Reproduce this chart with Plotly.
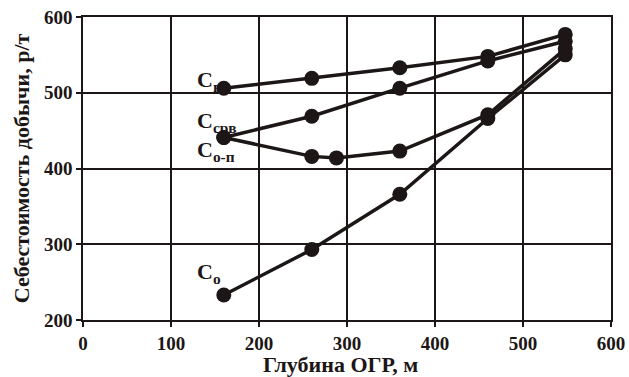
import plotly.graph_objects as go

# Depth of the open pit limit (m)
depth_main = [160, 260, 360, 460, 548]
depth_op = [160, 260, 288, 360, 460, 548]

# Production cost, rub/t
cost_p = [506, 519, 533, 548, 577]
cost_srv = [441, 469, 506, 542, 568]
cost_op = [441, 416, 414, 423, 471, 558]
cost_o = [233, 293, 366, 466, 550]

series = [
    (depth_main, cost_p),
    (depth_main, cost_srv),
    (depth_op, cost_op),
    (depth_main, cost_o),
]

label_texts = ["С<sub>п</sub>", "С<sub>срв</sub>", "С<sub>о-п</sub>", "С<sub>о</sub>"]
label_x = [127, 127, 127, 127]
label_y = [516, 462, 423, 262]

x_ticks = [0, 100, 200, 300, 400, 500, 600]
y_ticks = [200, 300, 400, 500, 600]

ink = "#1c1616"
font_family = "Liberation Serif"

fig = go.Figure()
for xs, ys in series:
    fig.add_trace(go.Scatter(
        x=xs, y=ys, mode="lines+markers",
        line=dict(color=ink, width=3.5),
        marker=dict(color=ink, size=15, symbol="circle"),
        showlegend=False,
    ))

for t, lx, ly in zip(label_texts, label_x, label_y):
    fig.add_annotation(
        x=lx, y=ly, text=t, showarrow=False,
        xanchor="left", yanchor="middle",
        font=dict(family=font_family, size=22, color=ink, weight="bold"),
    )

# Axis titles placed in paper coordinates
fig.add_annotation(
    xref="paper", yref="paper", x=0.488, y=-0.146,
    text="Глубина ОГР, м", showarrow=False,
    xanchor="center", yanchor="middle",
    font=dict(family=font_family, size=22, color=ink, weight="bold"),
)
fig.add_annotation(
    xref="paper", yref="paper", x=-0.116, y=0.5,
    text="Себестоимость добычи, р/т", showarrow=False, textangle=-90,
    xanchor="center", yanchor="middle",
    font=dict(family=font_family, size=22, color=ink, weight="bold"),
)

axis_common = dict(
    showline=True, linecolor=ink, linewidth=1.5, mirror=True,
    showgrid=True, gridcolor=ink, gridwidth=1.5,
    ticks="outside", ticklen=5, tickcolor=ink, tickwidth=1.5,
    zeroline=False, automargin=False,
    tickfont=dict(family=font_family, size=19, color=ink, weight="bold"),
)

fig.update_xaxes(range=[0, 600], tickvals=x_ticks, **axis_common)
fig.update_yaxes(range=[200, 600], tickvals=y_ticks, **axis_common)

fig.update_layout(
    width=629, height=377,
    margin=dict(l=83, r=18, t=17, b=57),
    paper_bgcolor="white", plot_bgcolor="white",
    font=dict(family=font_family, color=ink),
)

fig.write_html("out.html")
